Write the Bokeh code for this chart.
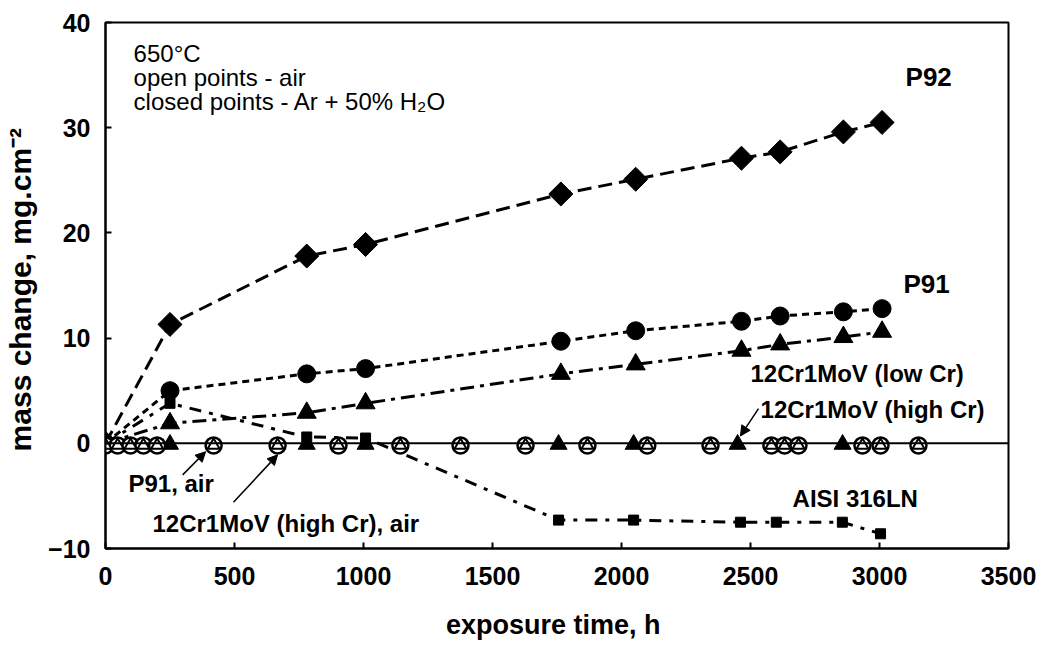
from bokeh.plotting import figure
from bokeh.models import Range1d, Span, Label, Arrow, NormalHead, FixedTicker
from bokeh.embed import file_html
from bokeh.resources import INLINE

# ---------------- data (hours, mg/cm^2) ----------------
t_main = [0, 250, 780, 1008, 1765, 2055, 2465, 2615, 2860, 3010]
p92 = [0, 11.3, 17.8, 18.9, 23.7, 25.1, 27.1, 27.7, 29.6, 30.5]
p91 = [0, 5.0, 6.6, 7.1, 9.7, 10.7, 11.6, 12.1, 12.5, 12.8]
cr_low = [0, 1.9, 2.9, 3.8, 6.6, 7.5, 8.8, 9.4, 10.1, 10.6]

t_aisi = [0, 250, 780, 1008, 1756, 2047, 2461, 2600, 2856, 3004]
aisi = [0, 3.8, 0.6, 0.5, -7.3, -7.3, -7.5, -7.5, -7.5, -8.6]

t_cr_high = [0, 250, 780, 1008, 1756, 2047, 2450, 2857]
cr_high = [0, -0.1, -0.1, -0.1, -0.1, -0.1, -0.1, -0.1]

t_air = [0, 47, 97, 147, 200, 419, 667, 903, 1143, 1376, 1628, 1868,
         2100, 2345, 2581, 2632, 2686, 2934, 3004, 3151]
p91_air = [-0.2] * len(t_air)
cr_high_air = [-0.2] * len(t_air)

x_ticks = [0, 500, 1000, 1500, 2000, 2500, 3000, 3500]
y_ticks = [-10, 0, 10, 20, 30, 40]

FONT = "Liberation Sans"

p = figure(width=1036, height=646, output_backend="svg", toolbar_location=None,
           x_range=Range1d(0, 3500), y_range=Range1d(-10, 40))
p.min_border_left = 105
p.min_border_right = 28
p.min_border_top = 22
p.min_border_bottom = 98
p.background_fill_color = "white"
p.border_fill_color = "white"
p.outline_line_color = "black"
p.outline_line_width = 2
p.grid.visible = False

for ax in (p.xaxis[0], p.yaxis[0]):
    ax.axis_line_width = 2
    ax.axis_line_color = "black"
    ax.major_tick_in = 6
    ax.major_tick_out = 0
    ax.minor_tick_line_color = None
    ax.major_tick_line_width = 2
    ax.major_label_text_font = FONT
    ax.major_label_text_font_style = "bold"
    ax.major_label_text_font_size = "25px"
    ax.major_label_text_color = "black"
    ax.axis_label_text_font = FONT
    ax.axis_label_text_font_style = "bold"
    ax.axis_label_text_color = "black"

p.xaxis.axis_label_text_font_size = "27px"
p.yaxis.axis_label_text_font_size = "30px"
p.xaxis.ticker = FixedTicker(ticks=x_ticks)
p.yaxis.ticker = FixedTicker(ticks=y_ticks)
p.xaxis.axis_label = "exposure time,  h"
p.yaxis.axis_label = "mass change,  mg.cm\u207b\u00b2"
p.xaxis.major_label_standoff = 18
p.xaxis.axis_label_standoff = 22
p.yaxis.major_label_standoff = 15
p.yaxis.axis_label_standoff = 8

# zero line
p.add_layout(Span(location=0, dimension="width", line_color="black", line_width=2))

# lines
p.line(t_main, p92, line_color="black", line_width=3, line_dash="14 7")
p.line(t_main, p91, line_color="black", line_width=3, line_dash="7 5")
p.line(t_main, cr_low, line_color="black", line_width=3, line_dash="14 6 4 6")
p.line(t_aisi, aisi, line_color="black", line_width=3, line_dash="12 8 4 8")

# markers
p.scatter(t_main, p92, marker="square", angle=0.785, size=17, color="black")
p.scatter(t_main, p91, marker="circle", size=18, color="black")
p.scatter(t_main, cr_low, marker="triangle", size=19, color="black")
p.scatter(t_aisi, aisi, marker="square", size=10, color="black")
p.scatter(t_cr_high, cr_high, marker="triangle", size=17, color="black")
p.scatter(t_air, p91_air, marker="circle", size=16, fill_color="white",
          line_color="black", line_width=2.5)
p.scatter(t_air, cr_high_air, marker="triangle", size=12, fill_color="white",
          line_color="black", line_width=2)

# texts
def lab(x, y, s, bold=True, size="24px"):
    p.add_layout(Label(x=x, y=y, text=s, text_font=FONT,
                       text_font_style="bold" if bold else "normal",
                       text_font_size=size, text_color="black",
                       text_baseline="middle", text_align="left"))

lab(109, 37.1, "650°C", bold=False)
lab(109, 34.8, "open points - air", bold=False)
lab(109, 32.5, "closed points - Ar + 50% H\u2082O", bold=False)
lab(3101, 34.8, "P92", size="26px")
lab(3093, 15.1, "P91", size="26px")
lab(2500, 6.6, "12Cr1MoV (low Cr)")
lab(2539, 3.2, "12Cr1MoV (high Cr)")
lab(2663, -5.2, "AISI 316LN")
lab(89, -3.8, "P91, air")
lab(182, -7.6, "12Cr1MoV (high Cr), air")

def arr(x0, y0, x1, y1):
    p.add_layout(Arrow(end=NormalHead(size=10, fill_color="black", line_color="black"),
                       x_start=x0, y_start=y0, x_end=x1, y_end=y1,
                       line_color="black", line_width=1.5))

arr(299, -3.0, 388, -0.8)
arr(496, -5.6, 667, -1.1)
arr(2531, 3.3, 2461, 0.7)

open("out.html", "w").write(file_html(p, INLINE))
